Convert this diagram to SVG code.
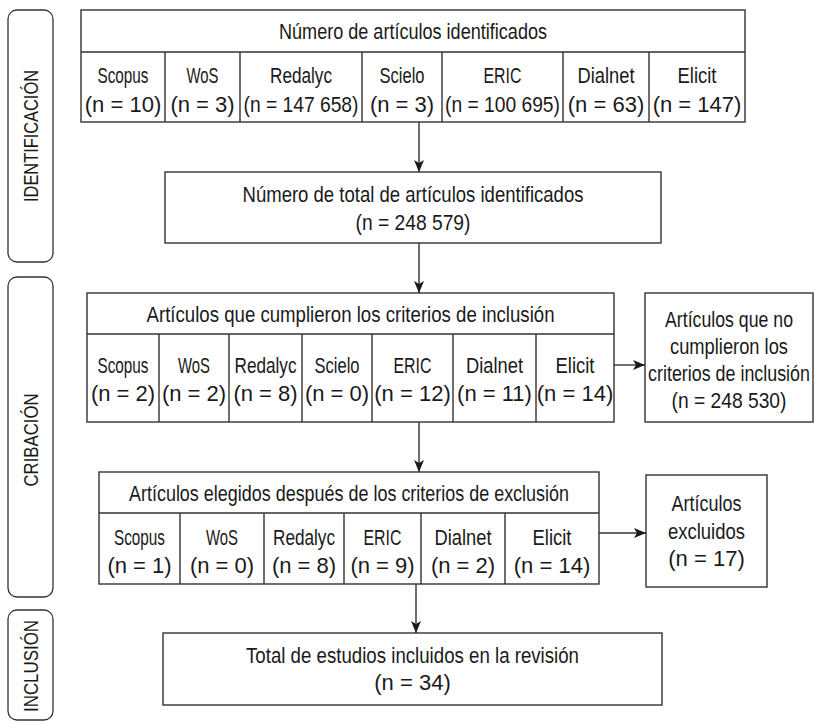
<svg xmlns="http://www.w3.org/2000/svg" width="815" height="721" viewBox="0 0 815 721">
<style>
.bx{fill:#fff;stroke:#333;stroke-width:1.4}
.ln{fill:none;stroke:#333;stroke-width:1.4}
.lb{fill:none;stroke:#333;stroke-width:1.3}
text{font-family:"Liberation Sans",Arial,sans-serif;font-size:22px;fill:#1a1a1a;text-anchor:middle}
.side{font-size:21px}
</style>
<defs>
<marker id="ah" viewBox="0 0 12 10" refX="12" refY="5" markerWidth="12" markerHeight="10" markerUnits="userSpaceOnUse" orient="auto">
<path d="M0,0 L12,5 L0,10 L3,5 Z" fill="#1a1a1a"/>
</marker>
</defs>
<rect width="815" height="721" fill="#fff"/>

<g id="label-identificacion">
<rect class="lb" x="8" y="10" width="45" height="252" rx="9"/>
<text class="side" transform="translate(38 136) rotate(-90)" textLength="132" lengthAdjust="spacingAndGlyphs">IDENTIFICACIÓN</text>
</g>
<g id="label-cribacion">
<rect class="lb" x="8" y="277" width="45" height="320" rx="9"/>
<text class="side" transform="translate(38 440) rotate(-90)" textLength="93" lengthAdjust="spacingAndGlyphs">CRIBACIÓN</text>
</g>
<g id="label-inclusion">
<rect class="lb" x="8" y="610" width="45" height="110" rx="9"/>
<text class="side" transform="translate(38 666) rotate(-90)" textLength="92" lengthAdjust="spacingAndGlyphs">INCLUSIÓN</text>
</g>

<g id="identificados">
<rect class="bx" x="81" y="10" width="664" height="112"/>
<path class="ln" d="M81,52H745M165,52V122M240,52V122M362,52V122M442,52V122M563,52V122M649,52V122"/>
<text x="413" y="39" textLength="268" lengthAdjust="spacingAndGlyphs">Número de artículos identificados</text>
<text x="123" y="83" textLength="51" lengthAdjust="spacingAndGlyphs">Scopus</text><text x="123" y="112">(n = 10)</text>
<text x="202.5" y="83" textLength="32" lengthAdjust="spacingAndGlyphs">WoS</text><text x="202.5" y="112">(n = 3)</text>
<text x="301" y="83" textLength="62" lengthAdjust="spacingAndGlyphs">Redalyc</text><text transform="translate(301 112) scale(0.875 1)">(n = 147 658)</text>
<text x="402" y="83" textLength="45" lengthAdjust="spacingAndGlyphs">Scielo</text><text x="402" y="112">(n = 3)</text>
<text x="502.5" y="83" textLength="38" lengthAdjust="spacingAndGlyphs">ERIC</text><text transform="translate(502.5 112) scale(0.875 1)">(n = 100 695)</text>
<text x="606" y="83" textLength="57" lengthAdjust="spacingAndGlyphs">Dialnet</text><text x="606" y="112">(n = 63)</text>
<text x="697" y="83" textLength="39" lengthAdjust="spacingAndGlyphs">Elicit</text><text x="697" y="112">(n = 147)</text>
</g>

<g id="total-identificados">
<rect class="bx" x="165" y="172" width="496" height="71"/>
<text x="413" y="202" textLength="341" lengthAdjust="spacingAndGlyphs">Número de total de artículos identificados</text>
<text transform="translate(413 230) scale(0.875 1)">(n = 248 579)</text>
</g>

<g id="cribados">
<rect class="bx" x="87" y="293" width="527" height="129"/>
<path class="ln" d="M87,334H614M159,334V422M229,334V422M302,334V422M372,334V422M453,334V422M536,334V422"/>
<text x="350.5" y="322" textLength="408" lengthAdjust="spacingAndGlyphs">Artículos que cumplieron los criterios de inclusión</text>
<text x="123" y="373" textLength="51" lengthAdjust="spacingAndGlyphs">Scopus</text><text x="123" y="401">(n = 2)</text>
<text x="194" y="373" textLength="32" lengthAdjust="spacingAndGlyphs">WoS</text><text x="194" y="401">(n = 2)</text>
<text x="265.5" y="373" textLength="62" lengthAdjust="spacingAndGlyphs">Redalyc</text><text x="265.5" y="401">(n = 8)</text>
<text x="337" y="373" textLength="45" lengthAdjust="spacingAndGlyphs">Scielo</text><text x="337" y="401">(n = 0)</text>
<text x="412.5" y="373" textLength="38" lengthAdjust="spacingAndGlyphs">ERIC</text><text x="412.5" y="401">(n = 12)</text>
<text x="494.5" y="373" textLength="57" lengthAdjust="spacingAndGlyphs">Dialnet</text><text x="494.5" y="401">(n = 11)</text>
<text x="575" y="373" textLength="39" lengthAdjust="spacingAndGlyphs">Elicit</text><text x="575" y="401">(n = 14)</text>
</g>

<g id="no-cumplieron">
<rect class="bx" x="645" y="293" width="168" height="129"/>
<text transform="translate(729 327) scale(0.805 1)">Artículos que no</text>
<text transform="translate(729 354) scale(0.832 1)">cumplieron los</text>
<text transform="translate(729 381) scale(0.813 1)">criterios de inclusión</text>
<text transform="translate(729 408) scale(0.875 1)">(n = 248 530)</text>
</g>

<g id="elegidos">
<rect class="bx" x="99" y="472" width="500" height="112"/>
<path class="ln" d="M99,513H599M180,513V584M264,513V584M344,513V584M421,513V584M505,513V584"/>
<text x="349" y="501" textLength="440" lengthAdjust="spacingAndGlyphs">Artículos elegidos después de los criterios de exclusión</text>
<text x="139.5" y="545" textLength="51" lengthAdjust="spacingAndGlyphs">Scopus</text><text x="139.5" y="573">(n = 1)</text>
<text x="222" y="545" textLength="32" lengthAdjust="spacingAndGlyphs">WoS</text><text x="222" y="573">(n = 0)</text>
<text x="304" y="545" textLength="62" lengthAdjust="spacingAndGlyphs">Redalyc</text><text x="304" y="573">(n = 8)</text>
<text x="382.5" y="545" textLength="38" lengthAdjust="spacingAndGlyphs">ERIC</text><text x="382.5" y="573">(n = 9)</text>
<text x="463" y="545" textLength="57" lengthAdjust="spacingAndGlyphs">Dialnet</text><text x="463" y="573">(n = 2)</text>
<text x="552" y="545" textLength="39" lengthAdjust="spacingAndGlyphs">Elicit</text><text x="552" y="573">(n = 14)</text>
</g>

<g id="excluidos">
<rect class="bx" x="646" y="475" width="121" height="112"/>
<text x="706.5" y="511" textLength="70" lengthAdjust="spacingAndGlyphs">Artículos</text>
<text x="706.5" y="539" textLength="77" lengthAdjust="spacingAndGlyphs">excluidos</text>
<text x="706.5" y="566">(n = 17)</text>
</g>

<g id="incluidos">
<rect class="bx" x="163" y="633" width="499" height="72"/>
<text x="412.5" y="663" textLength="333" lengthAdjust="spacingAndGlyphs">Total de estudios incluidos en la revisión</text>
<text x="412.5" y="690">(n = 34)</text>
</g>

<g id="connectors">
<path class="ln" d="M419,122V172" marker-end="url(#ah)"/>
<path class="ln" d="M419,243V293" marker-end="url(#ah)"/>
<path class="ln" d="M614,365H645" marker-end="url(#ah)"/>
<path class="ln" d="M419,422V472" marker-end="url(#ah)"/>
<path class="ln" d="M599,533H646" marker-end="url(#ah)"/>
<path class="ln" d="M416,584V633" marker-end="url(#ah)"/>
</g>
</svg>
